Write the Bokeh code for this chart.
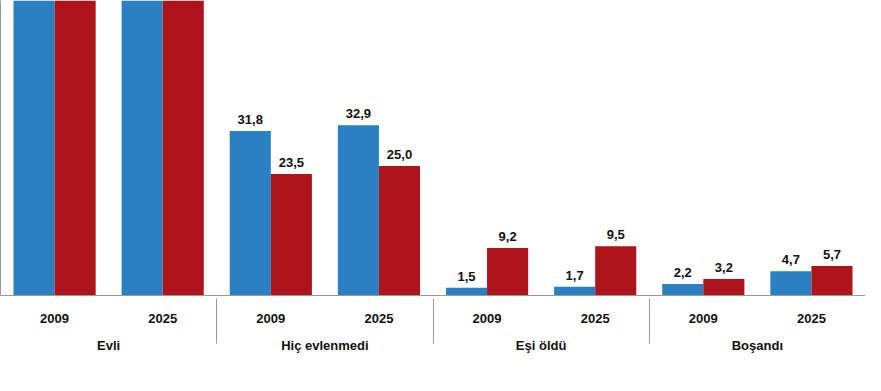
from bokeh.plotting import figure
from bokeh.models import ColumnDataSource, FactorRange, FixedTicker, Range1d
from bokeh.transform import dodge
from bokeh.embed import file_html
from bokeh.resources import INLINE

# ---- data ----
groups = ["Evli", "Hiç evlenmedi", "Eşi öldü", "Boşandı"]
years = ["2009", "2025"]
erkek = [64.5, 60.7, 31.8, 32.9, 1.5, 1.7, 2.2, 4.7]
kadin = [64.1, 59.8, 23.5, 25.0, 9.2, 9.5, 3.2, 5.7]

BLUE = "#2B7FC3"
RED = "#AE151A"
FONT = "Liberation Sans"
Y_TOP = 57

factors = [(g, y) for g in groups for y in years]

src = ColumnDataSource(dict(x=factors, erkek=erkek, kadin=kadin))

def fmt(v):
    return f"{v:.1f}".replace(".", ",")

lab_e = [(f, v) for f, v in zip(factors, erkek) if v < Y_TOP]
lab_k = [(f, v) for f, v in zip(factors, kadin) if v < Y_TOP]
src_le = ColumnDataSource(dict(x=[a for a, _ in lab_e], y=[b for _, b in lab_e], t=[fmt(b) for _, b in lab_e]))
src_lk = ColumnDataSource(dict(x=[a for a, _ in lab_k], y=[b for _, b in lab_k], t=[fmt(b) for _, b in lab_k]))

xr = FactorRange(*factors, group_padding=0, factor_padding=0, range_padding=0)
p = figure(x_range=xr, y_range=Range1d(0, Y_TOP), width=865, height=375,
           output_backend="svg", toolbar_location=None,
           min_border_left=0, min_border_right=0, min_border_top=0,
           min_border_bottom=80)

p.vbar(x=dodge("x", -0.19, range=p.x_range), top="erkek", width=0.38, source=src,
       color=BLUE, line_color=None, legend_label="Erkek")
p.vbar(x=dodge("x", 0.19, range=p.x_range), top="kadin", width=0.38, source=src,
       color=RED, line_color=None, legend_label="Kadın")

for s, dx in ((src_le, -0.19), (src_lk, 0.19)):
    p.text(x=dodge("x", dx, range=p.x_range), y="y", text="t", source=s,
           text_align="center", text_baseline="bottom", y_offset=-7,
           text_font_size="13px", text_font_style="bold", text_color="#111111",
           text_font={"value": FONT})

p.legend.visible = False
p.xgrid.grid_line_color = None
p.ygrid.grid_line_color = None
p.outline_line_color = None

ax = p.xaxis[0]
ax.axis_line_color = "#9a9a9a"
ax.major_tick_line_color = None
ax.minor_tick_line_color = None
ax.major_label_standoff = 12
ax.major_label_text_font = FONT
ax.major_label_text_font_size = "13px"
ax.major_label_text_font_style = "bold"
ax.major_label_text_color = "#111111"
ax.group_text_font = FONT
ax.group_text_font_size = "13px"
ax.group_text_font_style = "bold"
ax.group_text_color = "#111111"
ax.separator_line_color = "#9a9a9a"
ax.separator_line_width = 1

ya = p.yaxis[0]
ya.ticker = FixedTicker(ticks=[])
ya.axis_line_color = "#9a9a9a"
ya.major_tick_line_color = None
ya.minor_tick_line_color = None

with open("out.html", "w") as f:
    f.write(file_html(p, INLINE))
